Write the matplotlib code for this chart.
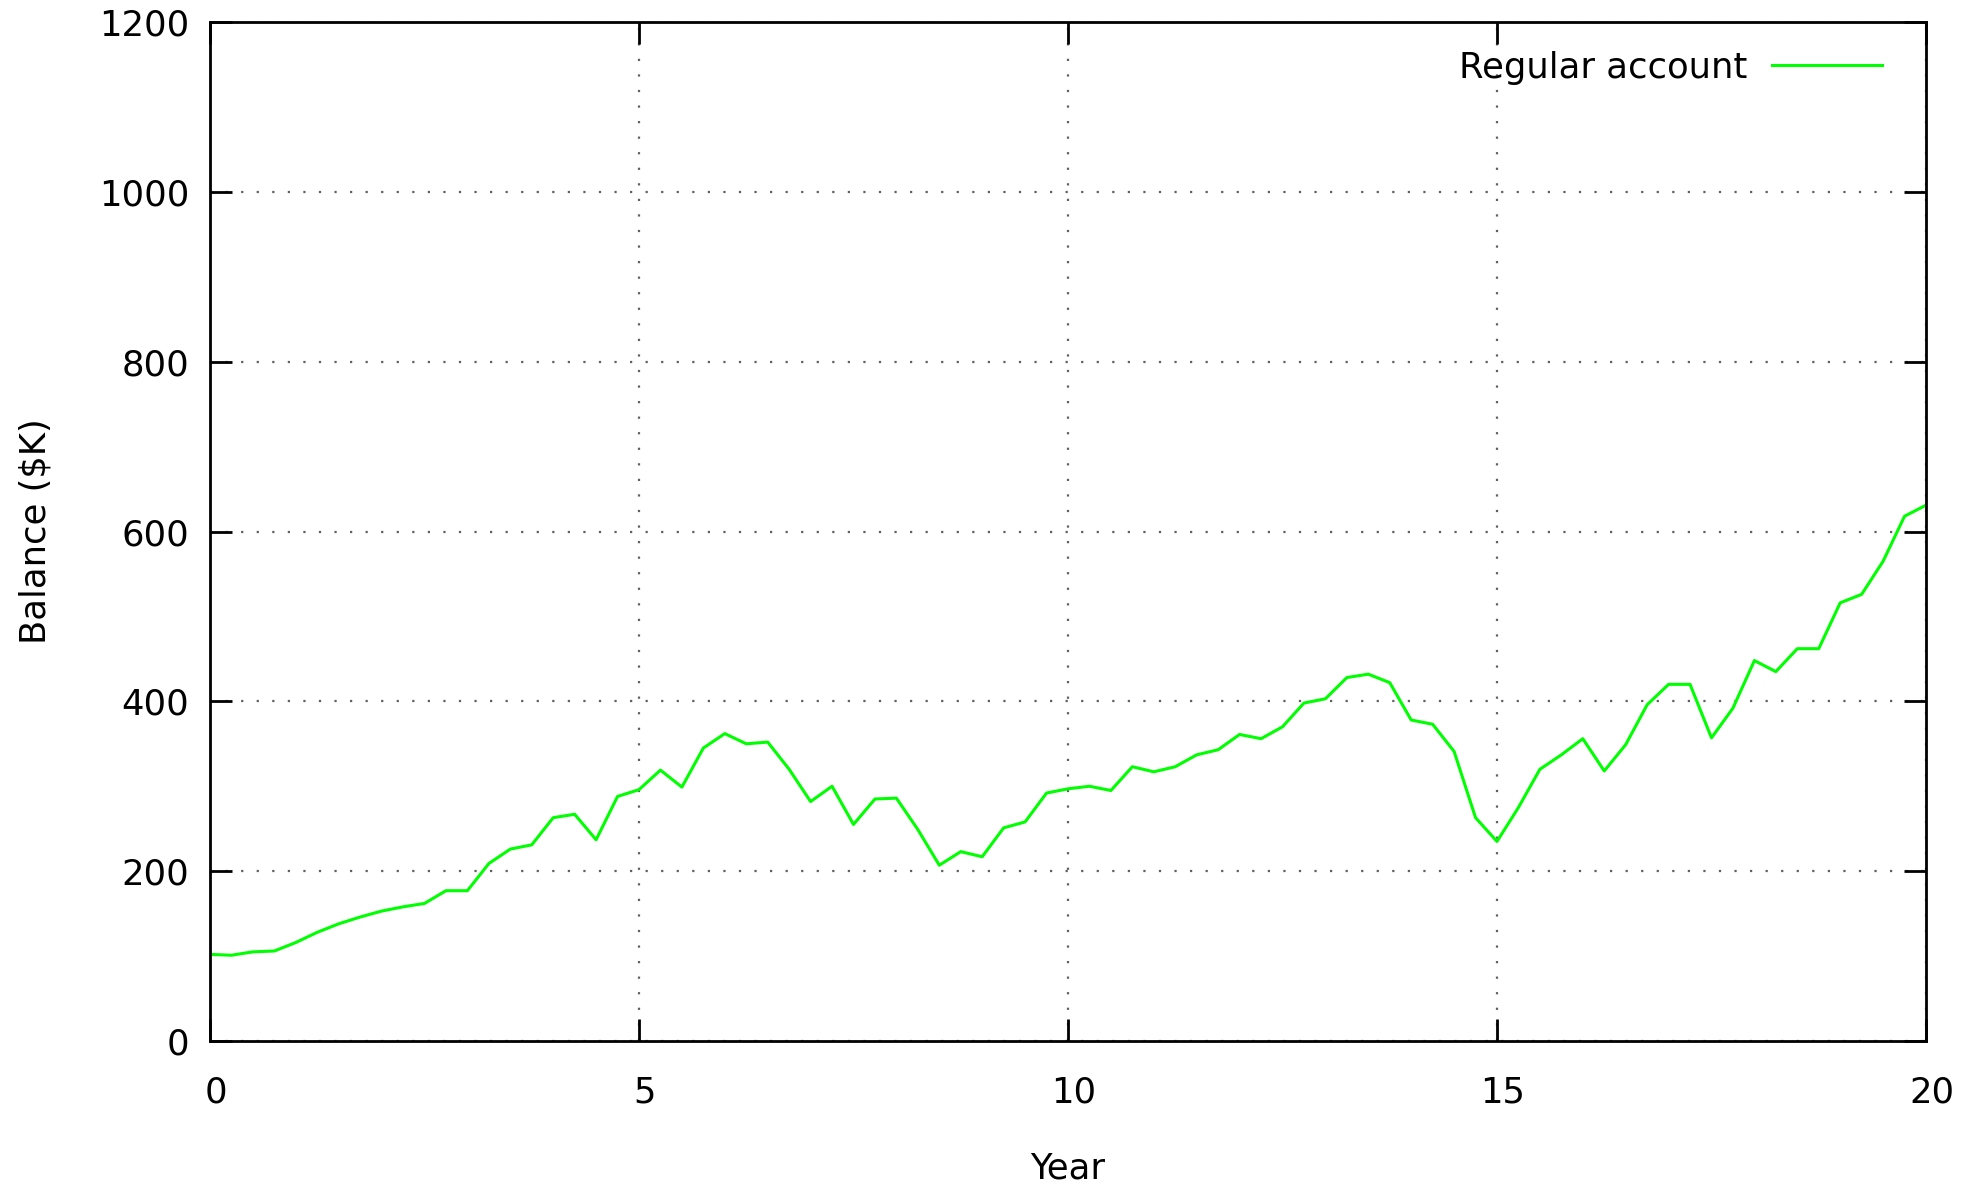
import matplotlib
matplotlib.use("Agg")
import matplotlib.pyplot as plt
from matplotlib.transforms import ScaledTranslation

years = [0.0, 0.25, 0.5, 0.75, 1.0, 1.25, 1.5, 1.75, 2.0, 2.25, 2.5, 2.75,
         3.0, 3.25, 3.5, 3.75, 4.0, 4.25, 4.5, 4.75, 5.0, 5.25, 5.5, 5.75,
         6.0, 6.25, 6.5, 6.75, 7.0, 7.25, 7.5, 7.75, 8.0, 8.25, 8.5, 8.75,
         9.0, 9.25, 9.5, 9.75, 10.0, 10.25, 10.5, 10.75, 11.0, 11.25, 11.5, 11.75,
         12.0, 12.25, 12.5, 12.75, 13.0, 13.25, 13.5, 13.75, 14.0, 14.25, 14.5, 14.75,
         15.0, 15.25, 15.5, 15.75, 16.0, 16.25, 16.5, 16.75, 17.0, 17.25, 17.5, 17.75,
         18.0, 18.25, 18.5, 18.75, 19.0, 19.25, 19.5, 19.75, 20.0]

balance = [102, 101, 105, 106, 116, 128, 138, 146, 153, 158, 162, 177,
           177, 209, 226, 231, 263, 267, 237, 288, 296, 319, 299, 345,
           362, 350, 352, 320, 282, 300, 255, 285, 286, 249, 207, 223,
           217, 251, 258, 292, 297, 300, 295, 323, 317, 323, 337, 343,
           361, 356, 370, 398, 403, 428, 432, 422, 378, 373, 341, 263,
           235, 275, 320, 337, 356, 318, 349, 396, 420, 420, 357, 392,
           448, 435, 462, 462, 516, 526, 565, 618, 631]

series_label = "Regular account"
x_ticks = [0, 5, 10, 15, 20]
y_ticks = [0, 200, 400, 600, 800, 1000, 1200]

plt.rcParams['font.family'] = ['DejaVu Sans']
FS = 25.5

fig = plt.figure(figsize=(19.76, 11.85), dpi=100)
L, R, T, B = 210, 1926, 22, 1041
ax = fig.add_axes([L/1976, 1 - B/1185, (R-L)/1976, (B-T)/1185])

ax.plot(years, balance, color='#00ff00', lw=2.2, label=series_label)

ax.set_xlim(0, 20)
ax.set_ylim(0, 1200)
ax.set_xticks(x_ticks)
ax.set_yticks(y_ticks)

ax.grid(True, color='#606060', linestyle=(0, (1, 6)), linewidth=1.6)

for s in ax.spines.values():
    s.set_linewidth(2.0)
    s.set_color('black')

ax.tick_params(axis='both', which='major', direction='in', length=16, width=2,
               top=True, right=True, labelsize=FS, colors='black')
ax.tick_params(axis='x', pad=25)
ax.tick_params(axis='y', pad=15)

off = ScaledTranslation(6/100, 0, fig.dpi_scale_trans)
for lab in ax.get_xticklabels():
    lab.set_transform(lab.get_transform() + off)

ax.set_xlabel("Year", fontsize=FS)
ax.set_ylabel("Balance (\\$K)", fontsize=FS)
ax.xaxis.set_label_coords(0.5, -0.108)
ax.yaxis.set_label_coords(-0.0915, 0.5)

leg = ax.legend(loc='upper right', bbox_to_anchor=(0.9745, 0.972), frameon=False,
                fontsize=FS, markerfirst=False, handlelength=3.1, handletextpad=0.7,
                borderpad=0, borderaxespad=0)

fig.savefig("out.png", dpi=100)
